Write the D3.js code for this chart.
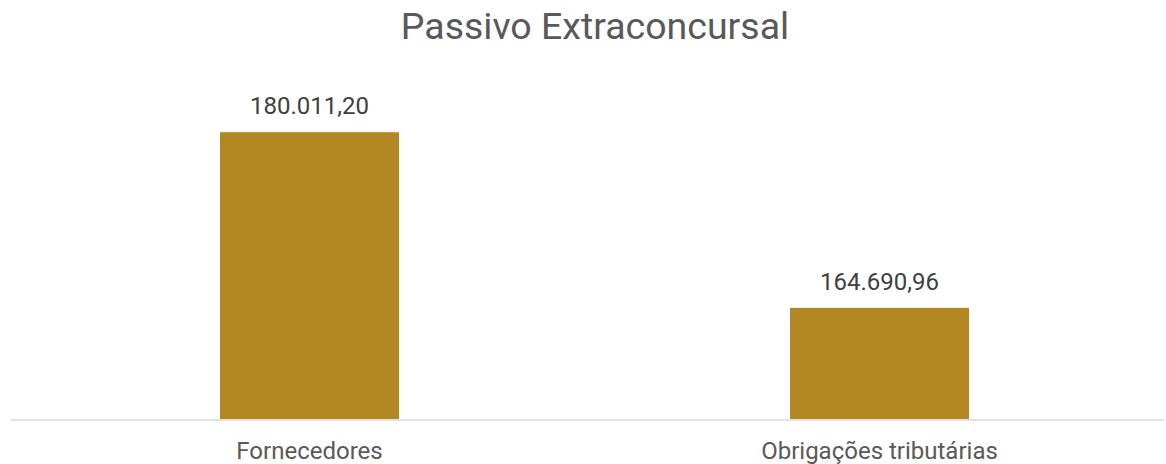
<!DOCTYPE html>
<html>
<head>
<meta charset="utf-8">
<script src="https://cdn.jsdelivr.net/npm/d3@7"></script>
<style>
  body { margin: 0; background: #fff; }
  svg { display: block; font-family: Roboto, "Noto Sans", sans-serif; }
</style>
</head>
<body>
<script>
  // chart data
  var categories = ["Fornecedores", "Obrigações tributárias"];
  var values = [180011.20, 164690.96];
  var title = "Passivo Extraconcursal";

  var width = 1166;
  var height = 464;
  var baseline = 419;
  var plotTop = 75;

  var fmt = function (v) {
    return v.toLocaleString("pt-BR", {minimumFractionDigits: 2, maximumFractionDigits: 2});
  };

  var xScale = d3.scaleBand()
    .domain(categories)
    .range([24.5, 1164.5])
    .paddingInner(0.686)
    .paddingOuter(0.343);

  var yScale = d3.scaleLinear()
    .domain([155000, 185000])
    .range([baseline, plotTop]);

  const svg = d3.select("body")
    .append("svg")
    .attr("width", width)
    .attr("height", height);

  svg.append("text")
    .attr("x", 595)
    .attr("y", 39)
    .attr("text-anchor", "middle")
    .attr("font-size", 37.5)
    .attr("fill", "#595959")
    .text(title);

  svg.selectAll("rect.bar")
    .data(values)
    .enter()
    .append("rect")
    .attr("class", "bar")
    .attr("x", function (d, i) { return xScale(categories[i]); })
    .attr("y", function (d) { return yScale(d); })
    .attr("width", xScale.bandwidth())
    .attr("height", function (d) { return baseline - yScale(d); })
    .attr("fill", "#b38822");

  svg.selectAll("text.val")
    .data(values)
    .enter()
    .append("text")
    .attr("class", "val")
    .attr("x", function (d, i) { return xScale(categories[i]) + xScale.bandwidth() / 2; })
    .attr("y", function (d) { return yScale(d) - 18; })
    .attr("text-anchor", "middle")
    .attr("font-size", 24)
    .attr("fill", "#404040")
    .text(fmt);

  // x axis
  var xAxis = d3.axisBottom(xScale).tickSize(0).tickPadding(23);
  var gx = svg.append("g")
    .attr("transform", `translate(0, ${baseline})`)
    .call(xAxis);
  gx.select(".domain").remove();
  gx.selectAll("text")
    .attr("font-family", "Roboto, sans-serif")
    .attr("font-size", 24)
    .attr("fill", "#595959");

  svg.append("line")
    .attr("x1", 11)
    .attr("x2", 1164)
    .attr("y1", baseline + 1)
    .attr("y2", baseline + 1)
    .attr("stroke", "#d9d9d9")
    .attr("stroke-width", 1.5);
</script>
</body>
</html>
